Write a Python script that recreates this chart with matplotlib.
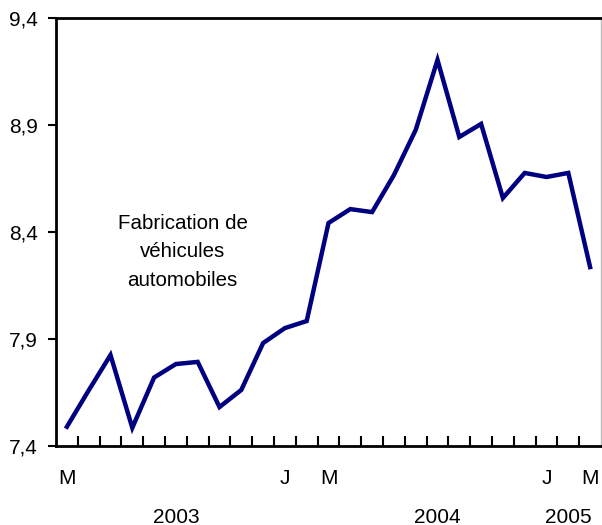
import numpy as np
import matplotlib
matplotlib.use('Agg')
import matplotlib.pyplot as plt
import matplotlib.transforms as mtransforms

plt.rcParams['font.family'] = ['Liberation Sans', 'DejaVu Sans']

# monthly values, March 2003 to March 2005
values = [7.49, 7.66, 7.825, 7.485, 7.72, 7.783, 7.793, 7.582, 7.662, 7.881,
          7.951, 7.984, 8.442, 8.507, 8.493, 8.666, 8.877, 9.204, 8.844, 8.905,
          8.559, 8.676, 8.657, 8.676, 8.236]
month_labels = {0: 'M', 10: 'J', 12: 'M', 22: 'J', 24: 'M'}
year_labels = {5: '2003', 17: '2004', 23: '2005'}
yticks = [7.4, 7.9, 8.4, 8.9, 9.4]
ytick_labels = ['7,4', '7,9', '8,4', '8,9', '9,4']
label = 'Fabrication de\nvéhicules\nautomobiles'

fig = plt.figure(figsize=(6.02, 5.25), dpi=100)
ax = fig.add_axes([56/602, 1 - 446/525, 545/602, 428/525])

x = np.arange(len(values))
ax.plot(x, values, color='#000080', lw=3.2, solid_joinstyle='miter')

ax.set_xlim(-0.5, len(values) - 0.5)
ax.set_ylim(7.4, 9.4)

ax.set_yticks(yticks)
ax.set_yticklabels(ytick_labels, fontsize=15)
ax.tick_params(axis='y', direction='out', length=6, width=1.5, pad=7)

ax.set_xticks([])
ax.set_xticks(np.arange(0.5, len(values) - 1, 1), minor=True)
ax.tick_params(axis='x', which='minor', direction='in', length=7, width=1.5)

for s in ['left', 'bottom', 'top']:
    ax.spines[s].set_linewidth(2)
    ax.spines[s].set_color('black')
ax.spines['right'].set_color('#bbbbbb')
ax.spines['right'].set_linewidth(1)

trans = mtransforms.blended_transform_factory(ax.transData, ax.transAxes)
for i, t in month_labels.items():
    ax.text(i, -0.075, t, transform=trans, ha='center', va='center', fontsize=15)
for i, t in year_labels.items():
    ax.text(i, -0.166, t, transform=trans, ha='center', va='center', fontsize=15)

ax.text(5.3, 8.307, label, ha='center', va='center', fontsize=14.8, linespacing=1.65)

fig.savefig('out.png', dpi=100)
